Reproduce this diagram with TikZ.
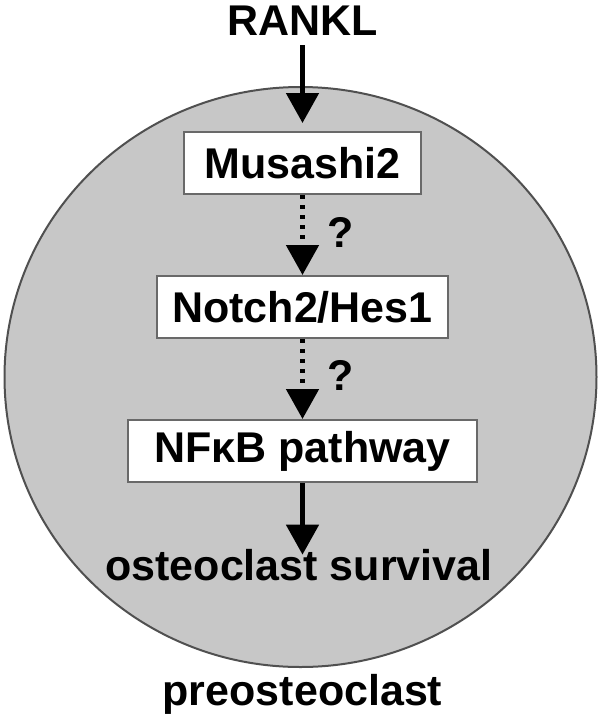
\documentclass[tikz,border=0pt]{standalone}
\usepackage{fontspec}
\setmainfont{Liberation Sans}
\usepackage{tikz}
\usetikzlibrary{arrows.meta, positioning}

\definecolor{cellgray}{RGB}{199,199,199}
\definecolor{cellline}{RGB}{80,80,80}
\definecolor{boxline}{RGB}{105,105,105}

\tikzset{
  cell/.style={fill=cellgray, draw=cellline, line width=2pt},
  lbl/.style={font=\fontsize{43}{50}\selectfont\bfseries, inner sep=0pt},
  stepbox/.style={lbl, draw=boxline, line width=2pt, fill=white, minimum height=62pt},
  act/.style={line width=5pt, -{Triangle[width=32pt,length=30pt]}},
  maybe/.style={act, dash pattern=on 4pt off 6pt},
}

\begin{document}
\begin{tikzpicture}[x=1pt, y=-1pt]
        \useasboundingbox (0,0) rectangle (604,716);

        % the cell
        \draw [cell] (300.5,377) ellipse [x radius=296pt, y radius=290pt];

        % signalling steps
        \node [lbl, anchor=base] (rankl) at (302.5,35) {RANKL};
        \node [stepbox, minimum width=237pt] (msi2) at (302.5,163) {Musashi2};
        \node [stepbox, minimum width=291pt, below=80pt of msi2] (notch) {Notch2/Hes1};
        \node [stepbox, minimum width=349pt, below=80pt of notch] (nfkb) {NFκB pathway};
        \node [lbl, anchor=base] (surv) at (299,580) {osteoclast survival};
        \node [lbl, anchor=base] (preo) at (302.5,705) {preosteoclast};

        % question marks at the unproven links
        \node [lbl, anchor=base] (q1) at (341,247) {?};
        \node [lbl, anchor=base] (q2) at (341,390) {?};

        % arrows
        \draw [act, shorten <=10pt, shorten >=8pt] (rankl.south) -- (msi2.north);
        \draw [maybe] (msi2.south) -- (notch.north);
        \draw [maybe] (notch.south) -- (nfkb.north);
        \draw [act, shorten >=-6pt] (nfkb.south) -- (nfkb.south |- surv.north);
\end{tikzpicture}
\end{document}
